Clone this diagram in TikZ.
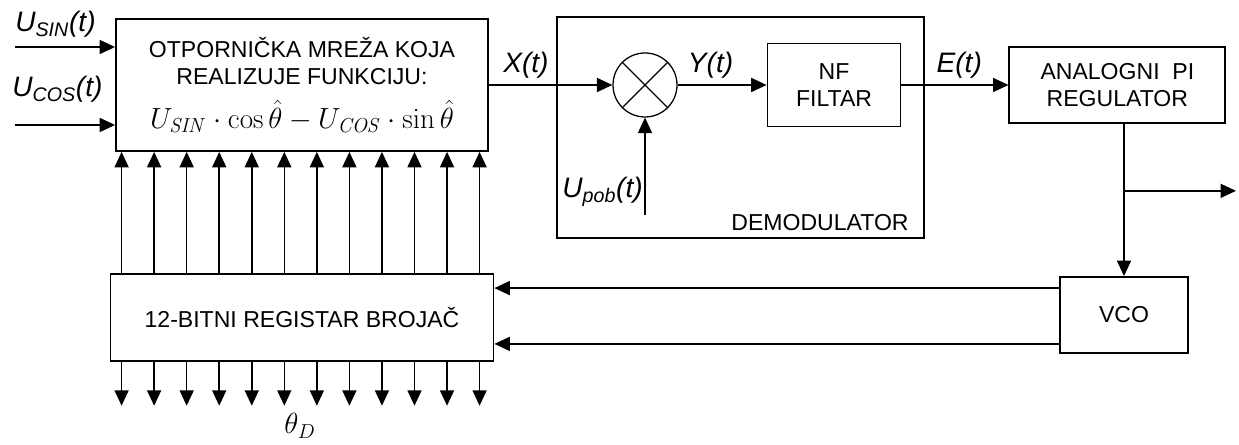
\documentclass[tikz,border=0pt]{standalone}
\usepackage[no-math]{fontspec}
\setmainfont{Liberation Sans}
\usepackage{amsmath}
\usetikzlibrary{arrows.meta,positioning,calc}
\newcommand\blkfont{\fontsize{16.4}{19.5}\selectfont}
\newcommand\lblfont{\fontsize{20}{24}\selectfont\itshape}

\begin{document}
\begin{tikzpicture}[
  >={Triangle[length=11pt,width=10pt]},
  blk/.style={draw, line width=1.3pt, align=center, font=\blkfont, inner sep=3pt},
  lbl/.style={font=\lblfont, inner sep=2pt},
  arr/.style={->, line width=1.1pt}]
  \useasboundingbox (0,0) rectangle (30.975,11.125);
  \node[blk, minimum width=9.3cm, minimum height=3.3cm] (mreza) at (7.55,9) {OTPORNIČKA MREŽA KOJA\\ REALIZUJE FUNKCIJU:\\[10pt] {\fontsize{21}{24}\selectfont $U_{\mathit{SIN}}\cdot\cos\hat{\theta}-U_{\mathit{COS}}\cdot\sin\hat{\theta}$}};
  \node[blk, below=3.025cm of mreza, minimum width=9.575cm, minimum height=2.175cm] (reg) {12-BITNI REGISTAR BROJAČ};
  \node[blk, minimum width=9.175cm, minimum height=5.525cm] (demod) at (18.5125,7.9375) {};
  \node[draw, circle, line width=0.9pt, minimum size=1.6cm, inner sep=0pt] (mix) at (16.125,9) {};
  \node[blk, right=2.225cm of mix, minimum width=3.325cm, minimum height=2.075cm] (filt) {NF\\ FILTAR};
  \node[blk, right=2.675cm of filt, minimum width=5.4cm, minimum height=1.9cm] (pi) {ANALOGNI\ \ PI\\ REGULATOR};
  \node[blk, minimum width=3.2cm, minimum height=1.9cm] (vco) at (28.1,3.25) {VCO};
  \node[font=\blkfont, anchor=base east, inner sep=0pt] (demodlbl) at ([xshift=-0.4cm, yshift=0.2cm]demod.south east) {DEMODULATOR};
  % mixer cross
  \draw[line width=0.9pt] (mix.north west) -- (mix.south east) (mix.north east) -- (mix.south west);
  % inputs
  \coordinate (usin) at (0.375,9.95);
  \coordinate (ucos) at (0.375,8.0);
  \draw[arr] (usin) -- (usin -| mreza.west);
  \draw[arr] (ucos) -- (ucos -| mreza.west);
  \node[lbl, anchor=base west, inner sep=0pt] (usinlbl) at ([yshift=0.375cm]usin) {U\textsubscript{SIN}(t)};
  \node[lbl, anchor=base west, inner sep=0pt] (ucoslbl) at ([xshift=-0.075cm, yshift=0.7cm]ucos) {U\textsubscript{COS}(t)};
  % signal path
  \draw[arr] (mreza.east |- mix) -- node[lbl, above=2pt, pos=0.3] (xlbl) {X(t)} (mix);
  \draw[arr] (mix) -- node[lbl, above=2pt, pos=0.37] (ylbl) {Y(t)} (filt);
  \draw[arr] (filt) -- node[lbl, above=2pt, pos=0.54] (elbl) {E(t)} (pi);
  \coordinate (upob) at (16.125,5.75);
  \draw[arr] (upob) -- (mix.south);
  \node[lbl, anchor=base east, inner sep=0pt] (upoblbl) at ([xshift=-0.05cm, yshift=0.425cm]upob) {U\textsubscript{pob}(t)};
  % regulator, VCO and counter
  \draw[arr] (pi.south -| vco.north) -- (vco.north);
  \coordinate (br) at ($(pi.south -| vco.north)!0.44!(vco.north)$);
  \draw[arr] (br) -- ++(2.8,0);
  \coordinate (v1) at ([yshift=-0.3cm]vco.north west);
  \coordinate (v2) at ([yshift=0.25cm]vco.south west);
  \draw[arr] (v1) -- (v1 -| reg.east);
  \draw[arr] (v2) -- (v2 -| reg.east);
  \foreach \i in {0,...,11} {
    \coordinate (u\i) at ([xshift=3mm+\i*8.136mm]reg.north west);
    \draw[arr] (u\i) -- (u\i |- mreza.south);
    \coordinate (d\i) at ([xshift=3mm+\i*8.136mm]reg.south west);
    \draw[arr] (d\i) -- ++(0,-1.1);
  }
  \node[anchor=base, inner sep=0pt, font=\fontsize{22}{26}\selectfont] (theta) at ([xshift=-0.05cm, yshift=-1.8cm]reg.south) {$\theta_D$};
\end{tikzpicture}
\end{document}
